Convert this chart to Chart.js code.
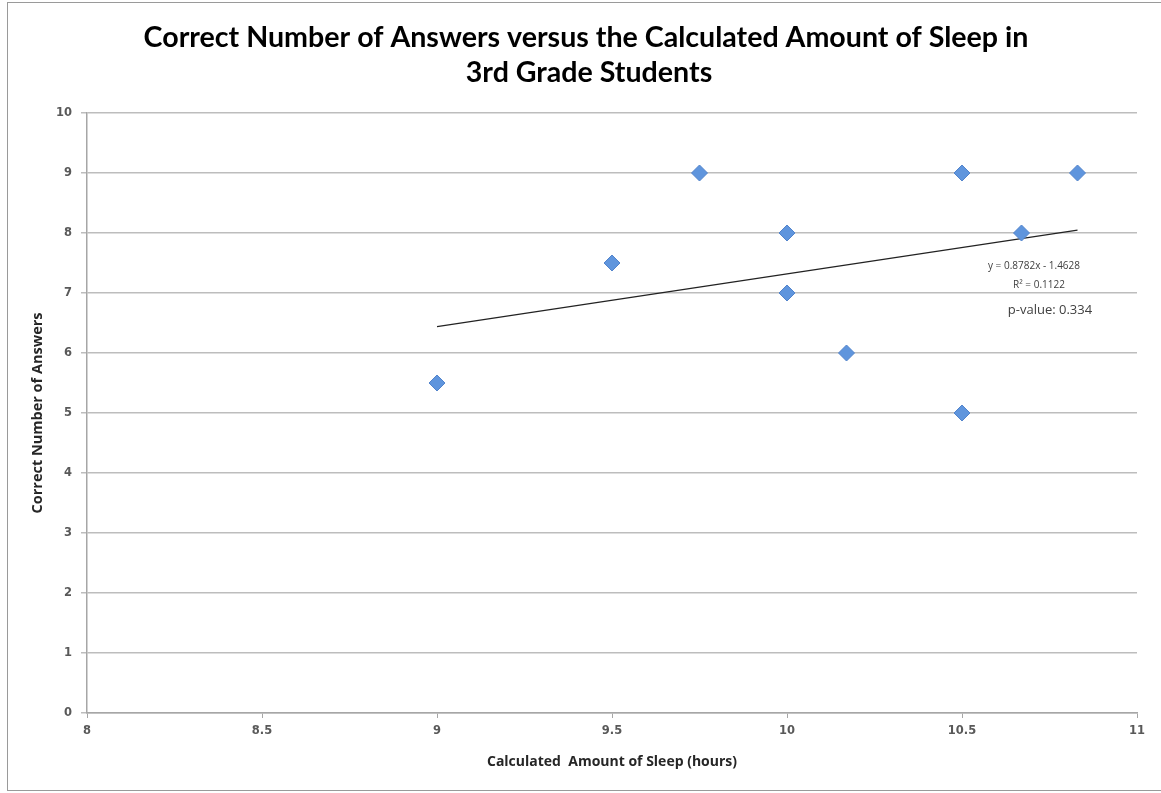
<!DOCTYPE html>
<html>
<head>
<meta charset="utf-8">
<script src="https://cdn.jsdelivr.net/npm/chart.js@4"></script>
<style>
  html, body { margin: 0; padding: 0; background: #fff; }
  #wrap { width: 1161px; height: 793px; position: relative; }
</style>
</head>
<body>
<div id="wrap"><canvas id="sleep-chart" width="1161" height="793"></canvas></div>
<script>
const titleLines = [
  "Correct Number of Answers versus the Calculated Amount of Sleep in",
  "3rd Grade Students"
];
const sleepHours = [9, 9.5, 9.75, 10, 10, 10.17, 10.5, 10.5, 10.67, 10.83];
const correctAnswers = [5.5, 7.5, 9, 8, 7, 6, 9, 5, 8, 9];
const xTicks = [8, 8.5, 9, 9.5, 10, 10.5, 11];
const yTicks = [0, 1, 2, 3, 4, 5, 6, 7, 8, 9, 10];

// trendline shown on the chart
const slope = 0.8782;
const intercept = -1.4628;
const trendText = ["y = 0.8782x - 1.4628", "R\u00b2 = 0.1122", "p-value: 0.334"];

const points = sleepHours.map((h, i) => ({ x: h, y: correctAnswers[i] }));
const xMin = Math.min(...sleepHours);
const xMax = Math.max(...sleepHours);
const trendPoints = [
  { x: xMin, y: slope * xMin + intercept },
  { x: xMax, y: slope * xMax + intercept }
];

const tickFont = { family: "DejaVu Sans", size: 11.5, weight: "bold" };

// outer frame, title and trendline labels
const extras = {
  id: "extras",
  beforeDraw(chart) {
    const ctx = chart.ctx;
    ctx.save();
    ctx.fillStyle = "#fff";
    ctx.fillRect(0, 0, chart.width, chart.height);
    ctx.strokeStyle = "#9a9a9a";
    ctx.lineWidth = 1;
    ctx.strokeRect(7.5, 2.5, chart.width, 788);
    ctx.fillStyle = "#000";
    ctx.textAlign = "center";
    ctx.textBaseline = "middle";
    ctx.font = "bold 28.6px Lato";
    ctx.fillText(titleLines[0], 586, 38);
    ctx.fillText(titleLines[1], 589, 73);
    ctx.restore();
  },
  afterDraw(chart) {
    const ctx = chart.ctx;
    ctx.save();
    ctx.fillStyle = "#404040";
    ctx.textAlign = "center";
    ctx.textBaseline = "middle";
    ctx.font = "10px 'Open Sans'";
    ctx.fillText(trendText[0], 1034, 266);
    ctx.fillText(trendText[1], 1039, 285);
    ctx.font = "13px 'Open Sans'";
    ctx.fillText(trendText[2], 1050, 310);
    ctx.restore();
  }
};

new Chart(document.getElementById("sleep-chart"), {
  type: "scatter",
  data: {
    datasets: [
      {
        label: "Answers",
        data: points,
        pointStyle: "rectRot",
        pointRadius: 8,
        pointHoverRadius: 8,
        backgroundColor: "#5f95dd",
        borderColor: "#5284cc",
        borderWidth: 1
      },
      {
        label: "Trend",
        type: "line",
        data: trendPoints,
        borderColor: "#222",
        borderWidth: 1.2,
        pointRadius: 0,
        fill: false
      }
    ]
  },
  options: {
    responsive: false,
    animation: false,
    layout: { padding: { left: 0, right: 24, top: 113, bottom: 0 } },
    plugins: {
      legend: { display: false },
      tooltip: { enabled: false },
      title: { display: false }
    },
    scales: {
      x: {
        type: "linear",
        min: 8,
        max: 11,
        afterBuildTicks: (axis) => { axis.ticks = xTicks.map((v) => ({ value: v })); },
        afterFit: (axis) => { axis.height = 80; },
        border: { color: "#a6a6a6", width: 1.5 },
        grid: { drawOnChartArea: false, drawTicks: true, tickLength: 5, color: "#a6a6a6" },
        ticks: {
          color: "#595959",
          font: tickFont,
          padding: 6,
          maxRotation: 0,
          callback: (v) => String(v)
        },
        title: {
          display: true,
          text: "Calculated  Amount of Sleep (hours)",
          color: "#262626",
          font: { family: "Open Sans", size: 14, weight: "bold" },
          padding: { top: 0, bottom: 23 }
        }
      },
      y: {
        min: 0,
        max: 10,
        afterBuildTicks: (axis) => { axis.ticks = yTicks.map((v) => ({ value: v })); },
        afterFit: (axis) => { axis.width = 87; },
        border: { color: "#a6a6a6", width: 1.5 },
        grid: { color: "#bdbdbd", lineWidth: 1.5, tickLength: 6 },
        ticks: { color: "#595959", font: tickFont, padding: 9 },
        title: {
          display: true,
          text: "Correct Number of Answers",
          color: "#262626",
          font: { family: "Open Sans", size: 14.5, weight: "bold" },
          padding: { top: 29, bottom: 0 }
        }
      }
    }
  },
  plugins: [extras]
});
</script>
</body>
</html>
